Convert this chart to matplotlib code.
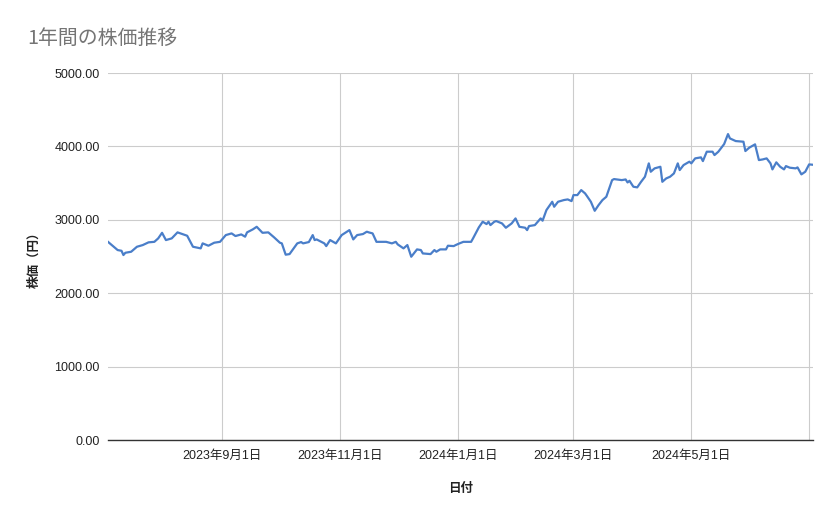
import matplotlib
matplotlib.use('Agg')
import matplotlib.pyplot as plt
import pandas as pd

plt.rcParams['font.family'] = ['Liberation Sans', 'Noto Sans CJK JP', 'DejaVu Sans']

# 日付と株価
dates = [
    '2023-07-04', '2023-07-07', '2023-07-09', '2023-07-11', '2023-07-12', '2023-07-13',
    '2023-07-16', '2023-07-19', '2023-07-22', '2023-07-25', '2023-07-28', '2023-07-30',
    '2023-08-01', '2023-08-03', '2023-08-06', '2023-08-09', '2023-08-14', '2023-08-17',
    '2023-08-21', '2023-08-22', '2023-08-25', '2023-08-28', '2023-08-31', '2023-09-03',
    '2023-09-06', '2023-09-08', '2023-09-11', '2023-09-13', '2023-09-14', '2023-09-17',
    '2023-09-19', '2023-09-22', '2023-09-25', '2023-09-28', '2023-10-01', '2023-10-02',
    '2023-10-04', '2023-10-06', '2023-10-10', '2023-10-12', '2023-10-13', '2023-10-16',
    '2023-10-18', '2023-10-19', '2023-10-20', '2023-10-24', '2023-10-25', '2023-10-27',
    '2023-10-30', '2023-11-02', '2023-11-06', '2023-11-08', '2023-11-10', '2023-11-13',
    '2023-11-15', '2023-11-16', '2023-11-18', '2023-11-20', '2023-11-25', '2023-11-28',
    '2023-11-30', '2023-12-01', '2023-12-04', '2023-12-06', '2023-12-08', '2023-12-11',
    '2023-12-13', '2023-12-14', '2023-12-18', '2023-12-20', '2023-12-21', '2023-12-23',
    '2023-12-26', '2023-12-27', '2023-12-30', '2023-12-31', '2024-01-02', '2024-01-04',
    '2024-01-08', '2024-01-09', '2024-01-12', '2024-01-14', '2024-01-16', '2024-01-17',
    '2024-01-18', '2024-01-20', '2024-01-21', '2024-01-24', '2024-01-26', '2024-01-29',
    '2024-01-31', '2024-02-02', '2024-02-05', '2024-02-06', '2024-02-07', '2024-02-10',
    '2024-02-13', '2024-02-14', '2024-02-16', '2024-02-19', '2024-02-20', '2024-02-22',
    '2024-02-25', '2024-02-27', '2024-02-29', '2024-03-01', '2024-03-03', '2024-03-05',
    '2024-03-07', '2024-03-08', '2024-03-10', '2024-03-12', '2024-03-14', '2024-03-16',
    '2024-03-18', '2024-03-21', '2024-03-22', '2024-03-26', '2024-03-28', '2024-03-29',
    '2024-03-30', '2024-04-01', '2024-04-03', '2024-04-05', '2024-04-07', '2024-04-09',
    '2024-04-10', '2024-04-12', '2024-04-15', '2024-04-16', '2024-04-18', '2024-04-20',
    '2024-04-22', '2024-04-24', '2024-04-25', '2024-04-27', '2024-04-30', '2024-05-01',
    '2024-05-03', '2024-05-06', '2024-05-07', '2024-05-09', '2024-05-12', '2024-05-13',
    '2024-05-15', '2024-05-18', '2024-05-20', '2024-05-21', '2024-05-24', '2024-05-28',
    '2024-05-29', '2024-05-31', '2024-06-03', '2024-06-05', '2024-06-07', '2024-06-09',
    '2024-06-11', '2024-06-12', '2024-06-14', '2024-06-16', '2024-06-18', '2024-06-19',
    '2024-06-21', '2024-06-24', '2024-06-25', '2024-06-27', '2024-06-29', '2024-07-01',
    '2024-07-03',
]
prices = [
    2700, 2633, 2588, 2578, 2520, 2551,
    2565, 2633, 2656, 2693, 2700, 2747,
    2823, 2724, 2747, 2829, 2783, 2633,
    2611, 2679, 2647, 2688, 2700, 2792,
    2815, 2779, 2801, 2770, 2829, 2870,
    2905, 2823, 2829, 2761, 2688, 2679,
    2525, 2533, 2679, 2697, 2679, 2697,
    2792, 2724, 2733, 2679, 2642, 2724,
    2679, 2792, 2860, 2733, 2792, 2806,
    2838, 2829, 2815, 2700, 2700, 2679,
    2700, 2665, 2611, 2656, 2497, 2597,
    2588, 2542, 2533, 2588, 2565, 2597,
    2597, 2647, 2642, 2656, 2679, 2700,
    2700, 2747, 2897, 2974, 2942, 2974,
    2928, 2974, 2983, 2951, 2892, 2951,
    3019, 2905, 2892, 2860, 2915, 2928,
    3019, 2988, 3133, 3246, 3178, 3246,
    3269, 3278, 3255, 3337, 3337, 3405,
    3360, 3323, 3246, 3123, 3201, 3269,
    3314, 3541, 3555, 3541, 3550, 3509,
    3532, 3451, 3442, 3518, 3587, 3769,
    3655, 3701, 3723, 3518, 3564, 3587,
    3632, 3769, 3678, 3746, 3792, 3769,
    3837, 3851, 3800, 3928, 3928, 3882,
    3928, 4032, 4168, 4109, 4073, 4064,
    3937, 3983, 4028, 3814, 3823, 3837,
    3769, 3687, 3783, 3723, 3687, 3732,
    3710, 3701, 3714, 3619, 3655, 3755,
    3750,
]

tick_dates = ['2023-09-01', '2023-11-01', '2024-01-01', '2024-03-01', '2024-05-01', '2024-07-01']
tick_labels = ['2023年9月1日', '2023年11月1日', '2024年1月1日', '2024年3月1日', '2024年5月1日', '']
y_ticks = [0, 1000, 2000, 3000, 4000, 5000]

x = pd.to_datetime(dates)

fig = plt.figure(figsize=(8.39, 5.19), dpi=100)
ax = fig.add_axes([0.1287, 0.1522, 0.8403, 0.7071])

ax.plot(x, prices, color='#4a7ec9', linewidth=1.6, solid_joinstyle='round')

ax.set_xlim(x[0], x[-1])
ax.set_ylim(0, 5000)
ax.set_yticks(y_ticks)
ax.set_yticklabels([f'{v:.2f}' for v in y_ticks])
ax.set_xticks(pd.to_datetime(tick_dates))
ax.set_xticklabels(tick_labels)

ax.grid(True, color='#cccccc', linewidth=0.8)
ax.set_axisbelow(True)
for s in ['top', 'right', 'left']:
    ax.spines[s].set_visible(False)
ax.spines['bottom'].set_color('#333333')
ax.spines['bottom'].set_linewidth(1.0)
ax.spines['bottom'].set_zorder(3)

ax.tick_params(axis='both', length=0, labelsize=9, colors='#222222')
ax.tick_params(axis='y', pad=6)
ax.tick_params(axis='x', pad=7)

ax.set_xlabel('日付', fontsize=9, color='#222222', labelpad=15, fontweight='bold')
ax.set_ylabel('株価（円）', fontsize=9, color='#222222', labelpad=10, fontweight='bold')

fig.text(0.032, 0.926, '1年間の株価推移', fontsize=14.3, color='#757575',
         ha='left', va='center', family=['Noto Sans CJK JP', 'DejaVu Sans'])

fig.savefig('out.png', dpi=100)
